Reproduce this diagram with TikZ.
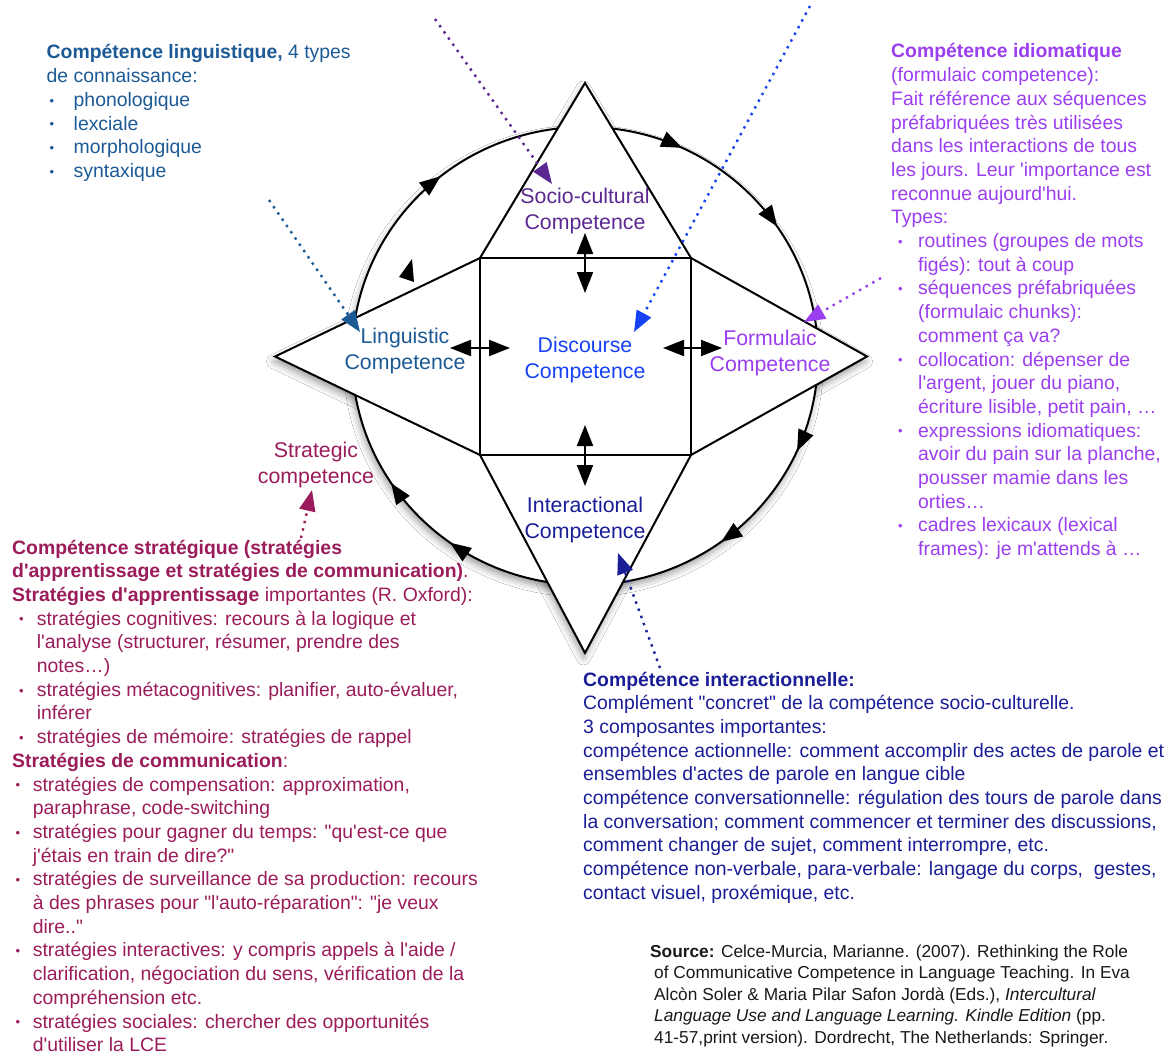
\documentclass[tikz,border=0pt]{standalone}
\usepackage{fontspec}
\setmainfont{Liberation Sans}[Ligatures=TeXOff]
\usetikzlibrary{arrows.meta,decorations.markings,shadows.blur}

\definecolor{cLing}{RGB}{28,90,150}
\definecolor{cSocio}{RGB}{91,40,145}
\definecolor{cDisc}{RGB}{22,66,245}
\definecolor{cForm}{RGB}{155,62,240}
\definecolor{cInter}{RGB}{26,30,150}
\definecolor{cStrat}{RGB}{155,28,90}
\definecolor{cSrc}{RGB}{25,25,25}

\newcommand\tDot{\raisebox{1.2pt}{\fontsize{13}{13}\selectfont •}}
\newcommand\tLn[1]{\hbox{#1}}
\newcommand\tBu[3]{\hbox{\kern#1pt\rlap{\tDot}\kern\dimexpr#2pt-#1pt\relax#3}}
\newcommand\tCi[2]{\hbox{\kern#1pt#2}}
\newcommand\tCl[1]{\hbox to 0pt{\hss#1\hss}}
\newcommand\tBlk[1]{\vtop{\lineskiplimit=-40pt\lineskip=0pt\relax#1}}

\tikzset{
  cTip/.tip={Triangle[length=21pt,width=16pt,fill=black]},
  shd/.style={blur shadow={shadow xshift=-1.5pt,shadow yshift=-5pt,shadow blur radius=7pt,shadow opacity=38}},
  blk/.style={anchor=base west, inner sep=0pt, font=\fontsize{19.4}{23.7}\selectfont},
  srcblk/.style={anchor=base west, inner sep=0pt, font=\fontsize{17.3}{21.5}\selectfont},
  lbl/.style={anchor=base, inner sep=0pt, font=\fontsize{21.3}{26}\selectfont},
  dbl/.style={line width=2pt, {Triangle[length=21pt,width=16pt,fill=black]}-{Triangle[length=21pt,width=16pt,fill=black]}},
  dotarr/.style={line width=2.4pt, dash pattern=on 2.4pt off 5.2pt, -{Triangle[length=21pt,width=16pt]}},
  shape line/.style={line width=2pt, line join=miter}
}

\begin{document}
\begin{tikzpicture}[x=1pt,y=-1pt]
\fill[white] (0,0) rectangle (1171,1054);
\useasboundingbox (0,0) rectangle (1171,1054);

% key points
\coordinate (C) at (585,356);
\coordinate (sqTL) at (480,258);
\coordinate (sqTR) at (691,258);
\coordinate (sqBR) at (691,455);
\coordinate (sqBL) at (480,455);
\coordinate (apT) at (585,83);
\coordinate (apB) at (585,653);
\coordinate (apL) at (275,356.5);
\coordinate (apR) at (867,356.5);

% shadows
\path[shd] (C) ellipse [x radius=233, y radius=229];
\path[shd] (apL) -- (sqTL) -- (apT) -- (sqTR) -- (apR) -- (sqBR) -- (apB) -- (sqBL) -- cycle;
\fill[white] (C) ellipse [x radius=233, y radius=229];

% circle with arrows
\draw[shape line, postaction={decorate}, decoration={markings,
   mark=at position 0.0675 with {\arrow{cTip}},
   mark=at position 0.150 with {\arrow{cTip}},
   mark=at position 0.349 with {\arrow{cTip}},
   mark=at position 0.407 with {\arrow{cTip}},
   mark=at position 0.643 with {\arrow{cTip}},
   mark=at position 0.819 with {\arrow{cTip}},
   mark=at position 0.905 with {\arrow{cTip}}}]
   (C) ellipse [x radius=233, y radius=229];

% star (triangles and kites) and square
\draw[shape line, fill=white] (apL) -- (sqTL) -- (apT) -- (sqTR) -- (apR) -- (sqBR) -- (apB) -- (sqBL) -- cycle;
\draw[shape line] (sqTL) rectangle (sqBR);

% stray arrowhead
\fill (412,259) -- (399,277) -- (414,282) -- cycle;

% inner double arrows
\coordinate (vt1) at (585,233); \coordinate (vt2) at (585,293);
\coordinate (vb1) at (585,425); \coordinate (vb2) at (585,486);
\coordinate (hl1) at (450,348); \coordinate (hl2) at (510,348);
\coordinate (hr1) at (663,348); \coordinate (hr2) at (722,348);
\draw[dbl] (vt1) -- (vt2);
\draw[dbl] (vb1) -- (vb2);
\draw[dbl] (hl1) -- (hl2);
\draw[dbl] (hr1) -- (hr2);

% shape labels
\node[lbl, text=cSocio] (socio) at (585,204) {\tBlk{\tCl{Socio-cultural}\tCl{Competence}}};
\node[lbl, text=cLing] (ling) at (405,343) {\tBlk{\tCl{Linguistic}\tCl{Competence}}};
\node[lbl, text=cDisc] (disc) at (585,352) {\tBlk{\tCl{Discourse}\tCl{Competence}}};
\node[lbl, text=cForm] (form) at (770,345) {\tBlk{\tCl{Formulaic}\tCl{Competence}}};
\node[lbl, text=cInter] (inter) at (585,512) {\tBlk{\tCl{Interactional}\tCl{Competence}}};
\node[lbl, text=cStrat] (strat) at (316,457) {\tBlk{\tCl{Strategic}\tCl{competence}}};

% dotted pointers
\coordinate (pSoc1) at (435,19);  \coordinate (pSoc2) at (552,184);
\coordinate (pDis1) at (810,6);   \coordinate (pDis2) at (634,332);
\coordinate (pLin1) at (269,200); \coordinate (pLin2) at (360,332);
\coordinate (pFor1) at (881,278); \coordinate (pFor2) at (804,322);
\coordinate (pInt1) at (660,668); \coordinate (pInt2) at (618,553);
\coordinate (pStr1) at (301,538); \coordinate (pStr2) at (312,490);
\draw[dotarr, cSocio] (pSoc1) -- (pSoc2);
\draw[dotarr, cDisc] (pDis1) -- (pDis2);
\draw[dotarr, cLing] (pLin1) -- (pLin2);
\draw[dotarr, cForm] (pFor1) -- (pFor2);
\draw[dotarr, cInter] (pInt1) -- (pInt2);
\draw[dotarr, cStrat] (pStr1) -- (pStr2);

% text blocks
\node[blk, text=cLing] (tLing) at (46.5,59) {\tBlk{%
\tLn{\textbf{Compétence linguistique,} 4 types}
\tLn{de connaissance:}
\tBu{3}{27}{phonologique}
\tBu{3}{27}{lexciale}
\tBu{3}{27}{morphologique}
\tBu{3}{27}{syntaxique}}};

\node[blk, text=cForm] (tForm) at (891,58) {\tBlk{%
\tLn{\textbf{Compétence idiomatique}}
\tLn{(formulaic competence):}
\tLn{Fait référence aux séquences}
\tLn{préfabriquées très utilisées}
\tLn{dans les interactions de tous}
\tLn{les jours. Leur 'importance est}
\tLn{reconnue aujourd'hui.}
\tLn{Types:}
\tBu{7}{27}{routines (groupes de mots}
\tCi{27}{figés): tout à coup}
\tBu{7}{27}{séquences préfabriquées}
\tCi{27}{(formulaic chunks):}
\tCi{27}{comment ça va?}
\tBu{7}{27}{collocation: dépenser de}
\tCi{27}{l'argent, jouer du piano,}
\tCi{27}{écriture lisible, petit pain, …}
\tBu{7}{27}{expressions idiomatiques:}
\tCi{27}{avoir du pain sur la planche,}
\tCi{27}{pousser mamie dans les}
\tCi{27}{orties…}
\tBu{7}{27}{cadres lexicaux (lexical}
\tCi{27}{frames): je m'attends à …}}};

\node[blk, text=cStrat] (tStrat) at (12,554) {\tBlk{%
\tLn{\textbf{Compétence stratégique (stratégies}}
\tLn{\textbf{d'apprentissage et stratégies de communication)}.}
\tLn{\textbf{Stratégies d'apprentissage} importantes (R. Oxford):}
\tBu{7}{24.7}{stratégies cognitives: recours à la logique et}
\tCi{24.7}{l'analyse (structurer, résumer, prendre des}
\tCi{24.7}{notes…)}
\tBu{7}{24.7}{stratégies métacognitives: planifier, auto-évaluer,}
\tCi{24.7}{inférer}
\tBu{7}{24.7}{stratégies de mémoire: stratégies de rappel}
\tLn{\textbf{Stratégies de communication}:}
\tBu{3.5}{20.7}{stratégies de compensation: approximation,}
\tCi{20.7}{paraphrase, code-switching}
\tBu{3.5}{20.7}{stratégies pour gagner du temps: "qu'est-ce que}
\tCi{20.7}{j'étais en train de dire?"}
\tBu{3.5}{20.7}{stratégies de surveillance de sa production: recours}
\tCi{20.7}{à des phrases pour "l'auto-réparation": "je veux}
\tCi{20.7}{dire.."}
\tBu{3.5}{20.7}{stratégies interactives: y compris appels à l'aide /}
\tCi{20.7}{clarification, négociation du sens, vérification de la}
\tCi{20.7}{compréhension etc.}
\tBu{3.5}{20.7}{stratégies sociales: chercher des opportunités}
\tCi{20.7}{d'utiliser la LCE}}};

\node[blk, text=cInter] (tInter) at (583,686) {\tBlk{%
\tLn{\textbf{Compétence interactionnelle:}}
\tLn{Complément "concret" de la compétence socio-culturelle.}
\tLn{3 composantes importantes:}
\tLn{compétence actionnelle: comment accomplir des actes de parole et}
\tLn{ensembles d'actes de parole en langue cible}
\tLn{compétence conversationnelle: régulation des tours de parole dans}
\tLn{la conversation; comment commencer et terminer des discussions,}
\tLn{comment changer de sujet, comment interrompre, etc.}
\tLn{compétence non-verbale, para-verbale: langage du corps,\ \ gestes,}
\tLn{contact visuel, proxémique, etc.}}};

\node[srcblk, text=cSrc] (tSrc) at (650,957) {\tBlk{%
\tLn{\textbf{Source:} Celce-Murcia, Marianne. (2007). Rethinking the Role}
\tCi{4}{of Communicative Competence in Language Teaching. In Eva}
\tCi{4}{Alcòn Soler \& Maria Pilar Safon Jordà (Eds.), \textit{Intercultural}}
\tCi{4}{\textit{Language Use and Language Learning. Kindle Edition} (pp.}
\tCi{4}{41-57,print version). Dordrecht, The Netherlands: Springer.}}};

\end{tikzpicture}
\end{document}
